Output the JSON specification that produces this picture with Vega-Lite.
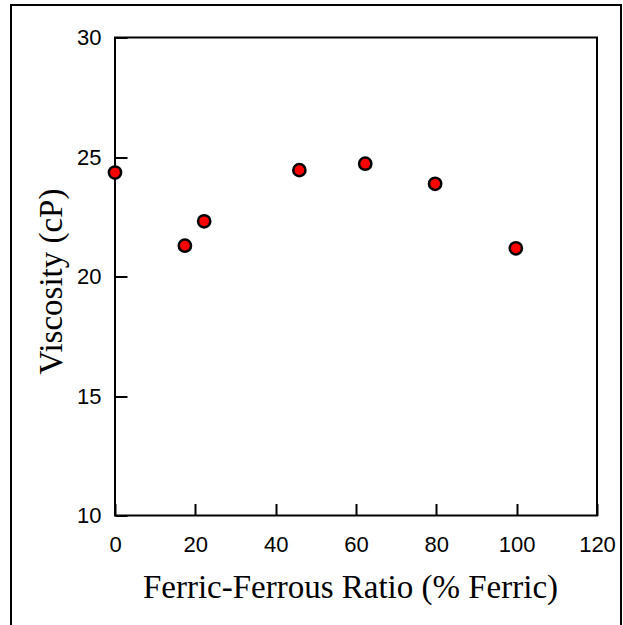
{
  "$schema": "https://vega.github.io/schema/vega-lite/v6.json",
  "width": 482,
  "height": 478,
  "autosize": {"type": "none"},
  "padding": {"left": 115, "top": 37.5, "right": 26, "bottom": 109.5},
  "background": "white",
  "config": {
    "view": {"stroke": "black", "strokeWidth": 2}
  },
  "data": {
    "values": [
      {"ratio": 0, "viscosity": 24.35},
      {"ratio": 17.4, "viscosity": 21.29},
      {"ratio": 22.2, "viscosity": 22.31},
      {"ratio": 45.9, "viscosity": 24.45},
      {"ratio": 62.3, "viscosity": 24.72},
      {"ratio": 79.7, "viscosity": 23.88},
      {"ratio": 99.8, "viscosity": 21.18}
    ]
  },
  "layer": [
    {
      "mark": {"type": "rect", "fill": null, "stroke": "black", "strokeWidth": 2, "clip": false},
      "encoding": {
        "x": {"value": -104},
        "x2": {"value": 506},
        "y": {"value": -32.5},
        "y2": {"value": 620}
      }
    },
    {
      "mark": {"type": "point", "shape": "circle", "filled": true, "fill": "#ff0000", "stroke": "black", "strokeWidth": 2.5, "size": 150, "opacity": 1, "clip": false},
      "encoding": {
        "x": {
          "field": "ratio",
          "type": "quantitative",
          "scale": {"domain": [0, 120], "nice": false, "zero": false},
          "axis": {
            "title": "Ferric-Ferrous Ratio (% Ferric)",
            "values": [0, 20, 40, 60, 80, 100, 120],
            "offset": -12,
            "domain": false,
            "grid": false,
            "tickColor": "black",
            "tickWidth": 2,
            "tickSize": 12,
            "labelFlush": false,
            "labelOverlap": false,
            "labelPadding": 19,
            "labelFont": "Liberation Sans",
            "labelFontSize": 22,
            "labelColor": "black",
            "titleFont": "Liberation Serif",
            "titleFontSize": 33,
            "titleFontWeight": "normal",
            "titleColor": "black",
            "titleBaseline": "alphabetic",
            "titleX": 235,
            "titleY": 93.5
          }
        },
        "y": {
          "field": "viscosity",
          "type": "quantitative",
          "scale": {"domain": [10, 30], "nice": false, "zero": false},
          "axis": {
            "title": "Viscosity (cP)",
            "values": [10, 15, 20, 25, 30],
            "offset": -12,
            "domain": false,
            "grid": false,
            "tickColor": "black",
            "tickWidth": 2,
            "tickSize": 12,
            "labelFlush": false,
            "labelOverlap": false,
            "labelPadding": 14,
            "labelFont": "Liberation Sans",
            "labelFontSize": 22,
            "labelColor": "black",
            "titleFont": "Liberation Serif",
            "titleFontSize": 33,
            "titleFontWeight": "normal",
            "titleColor": "black",
            "titleBaseline": "alphabetic",
            "titleX": -66,
            "titleY": 243.5
          }
        }
      }
    }
  ]
}
